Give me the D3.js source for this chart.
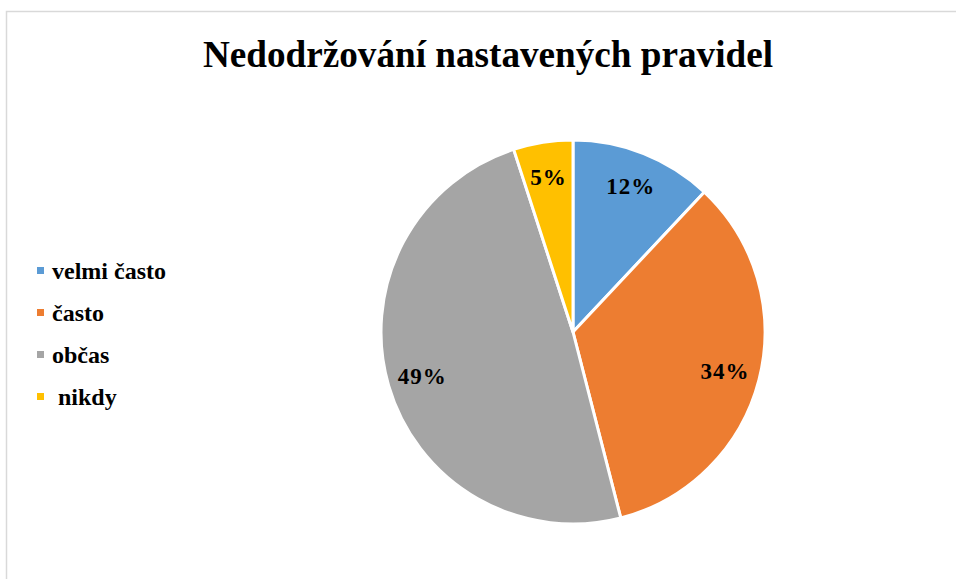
<!DOCTYPE html>
<html>
<head>
  <meta charset="utf-8">
  <script src="https://cdn.jsdelivr.net/npm/d3@7"></script>
  <style>
body { margin: 0; background: #fff; }
  </style>
</head>
<body>
  <svg width="956" height="579"></svg>
  <script>

const categories = ["velmi často", "často", "občas", " nikdy"],
      values = [12, 34, 49, 5],
      labels = ["12%", "34%", "49%", "5%"],
      colors = ["#5b9bd5", "#ed7d31", "#a5a5a5", "#ffc000"];

const serif = "'Liberation Serif', 'Times New Roman', serif";

var svg = d3.select("svg");

// chart frame
svg.append("rect")
   .attr("x", 6.5).attr("y", 11.5)
   .attr("width", 1000).attr("height", 700)
   .attr("fill", "none")
   .attr("stroke", "#d9d9d9")
   .attr("stroke-width", 1.5);

svg.append("text")
   .attr("x", 488)
   .attr("y", 67)
   .attr("text-anchor", "middle")
   .attr("font-family", serif)
   .attr("font-weight", "bold")
   .attr("font-size", 38)
   .attr("textLength", 570)
   .attr("lengthAdjust", "spacingAndGlyphs")
   .text("Nedodržování nastavených pravidel");

const cx = 573, cy = 332, r = 192;

var pie = d3.pie().sort(null).value(d => d);
var arc = d3.arc().innerRadius(0).outerRadius(r);
var labelArc = d3.arc().innerRadius(157).outerRadius(157);

var g = svg.append("g").attr("transform", `translate(${cx},${cy})`);

var arcs = pie(values);

g.selectAll("path")
 .data(arcs)
 .enter().append("path")
 .attr("d", arc)
 .attr("fill", (d, i) => colors[i])
 .attr("stroke", "#fff")
 .attr("stroke-width", 3)
 .attr("stroke-linejoin", "round");

g.append("g")
 .selectAll("text")
 .data(arcs)
 .enter().append("text")
 .attr("transform", d => `translate(${labelArc.centroid(d)})`)
 .attr("text-anchor", "middle")
 .attr("dy", "0.35em")
 .attr("font-family", serif)
 .attr("font-weight", "bold")
 .attr("font-size", 23)
 .attr("letter-spacing", 1)
 .text((d, i) => labels[i]);

var legend = svg.append("g")
                .selectAll("g")
                .data(categories)
                .enter().append("g")
                .attr("transform", (d, i) => `translate(37,${267 + i * 42})`);

legend.append("rect")
      .attr("width", 7).attr("height", 7)
      .attr("fill", (d, i) => colors[i]);

legend.append("text")
      .attr("x", 15)
      .attr("y", 3.5)
      .attr("dy", "0.35em")
      .attr("font-family", serif)
      .attr("font-weight", "bold")
      .attr("font-size", 24)
      .style("white-space", "pre")
      .text(d => d);
</script>
</body>
</html>
